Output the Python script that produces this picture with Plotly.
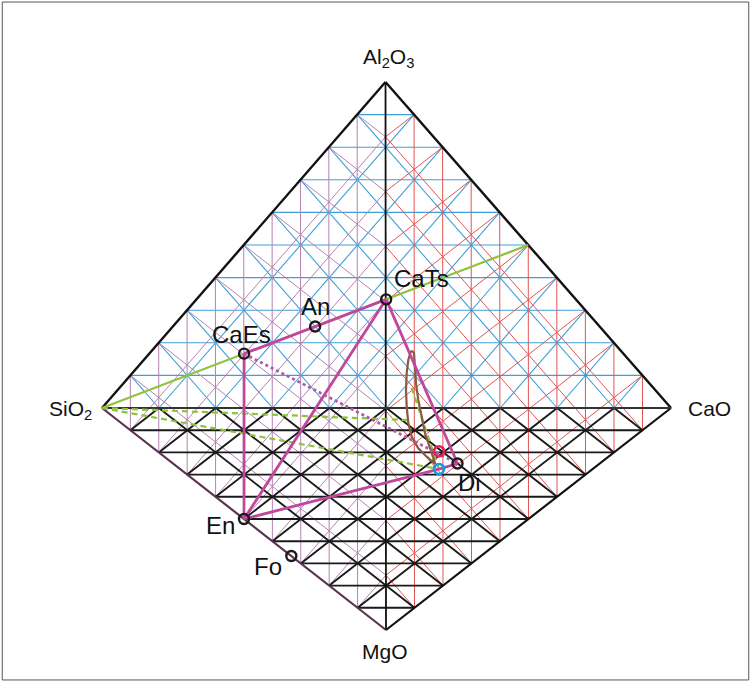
import plotly.graph_objects as go

# Projected corners of the CaO-MgO-Al2O3-SiO2 tetrahedron (drawing units)
CORNERS = {
    "SiO2": (102.0, 408.0),
    "CaO": (671.0, 408.0),
    "Al2O3": (385.5, 82.0),
    "MgO": (386.0, 630.0),
}
DIVISIONS = 10

# Phase compositions, mole fractions of each oxide
phases = ["CaTs", "An", "CaEs", "En", "Fo", "Di"]
sio2 = [1 / 3, 1 / 2, 2 / 3, 1 / 2, 1 / 3, 0.25]
al2o3 = [1 / 3, 1 / 4, 1 / 6, 0.0, 0.0, 0.0]
cao = [1 / 3, 1 / 4, 1 / 6, 0.0, 0.0, 0.50]
mgo = [0.0, 0.0, 0.0, 1 / 2, 2 / 3, 0.25]

# Liquid compositions (red and blue circles)
liq_names = ["red", "blue"]
liq_sio2 = [0.31, 0.27]
liq_al2o3 = [0.0, 0.0]
liq_cao = [0.495, 0.455]
liq_mgo = [0.195, 0.275]

# CaAl2O4 on the Al2O3-CaO join
ca_sio2, ca_al2o3, ca_cao, ca_mgo = 0.0, 0.5, 0.5, 0.0

# Outline of the brown field (drawing units)
lens_x = [411.0, 408.3, 406.7, 406.0, 406.7, 408.3, 411.7, 418.3, 426.7, 435.0,
          435.0, 429.3, 425.0, 421.7, 418.3, 416.0, 415.0, 414.0, 411.0]
lens_y = [350.7, 360.0, 373.0, 390.0, 406.7, 423.0, 436.7, 448.3, 456.7, 464.0,
          463.0, 446.7, 433.3, 416.7, 400.0, 383.3, 366.7, 352.7, 350.7]

# Ends of the dashed green traces (drawing units)
dash_upper_end = (407.0, 420.0)
dash_steep_start = (411.7, 388.0)


def project(s, a, c, m):
    tot = s + a + c + m
    x = (s * CORNERS["SiO2"][0] + a * CORNERS["Al2O3"][0]
         + c * CORNERS["CaO"][0] + m * CORNERS["MgO"][0]) / tot
    y = (s * CORNERS["SiO2"][1] + a * CORNERS["Al2O3"][1]
         + c * CORNERS["CaO"][1] + m * CORNERS["MgO"][1]) / tot
    return x, y


def face_grid(names):
    xs, ys = [], []
    for i in range(3):
        vi = CORNERS[names[i]]
        vj = CORNERS[names[(i + 1) % 3]]
        vl = CORNERS[names[(i + 2) % 3]]
        for k in range(1, DIVISIONS):
            t = k / DIVISIONS
            p1 = (t * vi[0] + (1 - t) * vj[0], t * vi[1] + (1 - t) * vj[1])
            p2 = (t * vi[0] + (1 - t) * vl[0], t * vi[1] + (1 - t) * vl[1])
            xs += [p1[0], p2[0], None]
            ys += [p1[1], p2[1], None]
    return xs, ys


fig = go.Figure()

faces = [
    (("SiO2", "CaO", "Al2O3"), "#409fd6", 1.1),
    (("SiO2", "Al2O3", "MgO"), "#b582b3", 1.0),
    (("CaO", "Al2O3", "MgO"), "#e05555", 1.0),
    (("SiO2", "CaO", "MgO"), "#1a1a1a", 1.9),
]
for names, col, w in faces:
    gx, gy = face_grid(names)
    fig.add_trace(go.Scatter(x=gx, y=gy, mode="lines", line=dict(color=col, width=w),
                             hoverinfo="skip", showlegend=False))

# tetrahedron edges
edges = [
    ("SiO2", "Al2O3", "#111111", 2.4),
    ("Al2O3", "CaO", "#111111", 2.4),
    ("CaO", "MgO", "#111111", 2.2),
    ("SiO2", "MgO", "#5a3350", 2.2),
    ("Al2O3", "MgO", "#111111", 1.8),
    ("SiO2", "CaO", "#333333", 1.8),
]
for a, b, col, w in edges:
    fig.add_trace(go.Scatter(x=[CORNERS[a][0], CORNERS[b][0]], y=[CORNERS[a][1], CORNERS[b][1]],
                             mode="lines", line=dict(color=col, width=w),
                             hoverinfo="skip", showlegend=False))

P = {n: project(s, a, c, m) for n, s, a, c, m in zip(phases, sio2, al2o3, cao, mgo)}
L = {n: project(s, a, c, m) for n, s, a, c, m in zip(liq_names, liq_sio2, liq_al2o3, liq_cao, liq_mgo)}
CA = project(ca_sio2, ca_al2o3, ca_cao, ca_mgo)
SI = CORNERS["SiO2"]

GREEN = "#8cc43c"
MAG = "#c0479c"


def seg(pts, color, width, dash="solid"):
    fig.add_trace(go.Scatter(x=[p[0] for p in pts], y=[p[1] for p in pts], mode="lines",
                             line=dict(color=color, width=width, dash=dash),
                             hoverinfo="skip", showlegend=False))


# SiO2 - CaAl2O4 join
seg([SI, CA], GREEN, 2.2)
# dashed green traces
seg([SI, dash_upper_end], GREEN, 2.2, "6px,4px")
seg([SI, L["blue"]], GREEN, 2.2, "6px,4px")
seg([dash_steep_start, L["blue"]], GREEN, 2.2, "6px,4px")

# brown field
fig.add_trace(go.Scatter(x=lens_x, y=lens_y, mode="lines", line=dict(color="#8a5a3e", width=2.2),
                         hoverinfo="skip", showlegend=False))

# phase relations
seg([P["CaEs"], P["An"], P["CaTs"]], MAG, 2.8)
seg([P["CaEs"], P["En"]], MAG, 2.8)
seg([P["En"], P["CaTs"]], MAG, 2.8)
seg([P["En"], L["blue"], P["Di"]], MAG, 2.8)
seg([P["CaTs"], P["Di"]], MAG, 2.8)
seg([P["CaEs"], P["Di"]], "#b55aa8", 2.8, "dot")

# phase markers
fig.add_trace(go.Scatter(x=[P[n][0] for n in phases], y=[P[n][1] for n in phases], mode="markers",
                         marker=dict(symbol="circle-open", size=10, color="#1a1a1a", line=dict(width=2.4)),
                         hoverinfo="skip", showlegend=False))
fig.add_trace(go.Scatter(x=[L["red"][0]], y=[L["red"][1]], mode="markers",
                         marker=dict(symbol="circle-open", size=10, color="#e3245c", line=dict(width=2.6)),
                         hoverinfo="skip", showlegend=False))
fig.add_trace(go.Scatter(x=[L["blue"][0]], y=[L["blue"][1]], mode="markers",
                         marker=dict(symbol="circle-open", size=10, color="#1c9ad8", line=dict(width=2.6)),
                         hoverinfo="skip", showlegend=False))

FONT = "Liberation Sans, Arial, sans-serif"
labels = [
    ("Al<sub>2</sub>O<sub>3</sub>", 388, 58, 21),
    ("SiO<sub>2</sub>", 70, 410, 21),
    ("CaO", 709, 408, 21),
    ("MgO", 385, 651, 21),
    ("CaTs", 421, 278, 24),
    ("An", 315, 306, 24),
    ("CaEs", 241, 334, 24),
    ("En", 220, 525, 24),
    ("Fo", 268, 566, 24),
    ("Di", 469, 482, 24),
]
for txt, x, y, sz in labels:
    fig.add_annotation(x=x, y=y, xref="x", yref="y", text=txt, showarrow=False,
                       font=dict(family=FONT, size=sz, color="#111111"),
                       xanchor="center", yanchor="middle")

fig.add_shape(type="rect", xref="paper", yref="paper", x0=0.003, y0=0.003, x1=0.997, y1=0.997,
              line=dict(color="#555555", width=1))

fig.update_layout(
    width=751, height=682,
    margin=dict(l=0, r=0, t=0, b=0),
    paper_bgcolor="white", plot_bgcolor="white",
    xaxis=dict(range=[0, 751], visible=False, fixedrange=True),
    yaxis=dict(range=[682, 0], visible=False, fixedrange=True),
    showlegend=False,
)

fig.write_html("out.html")
